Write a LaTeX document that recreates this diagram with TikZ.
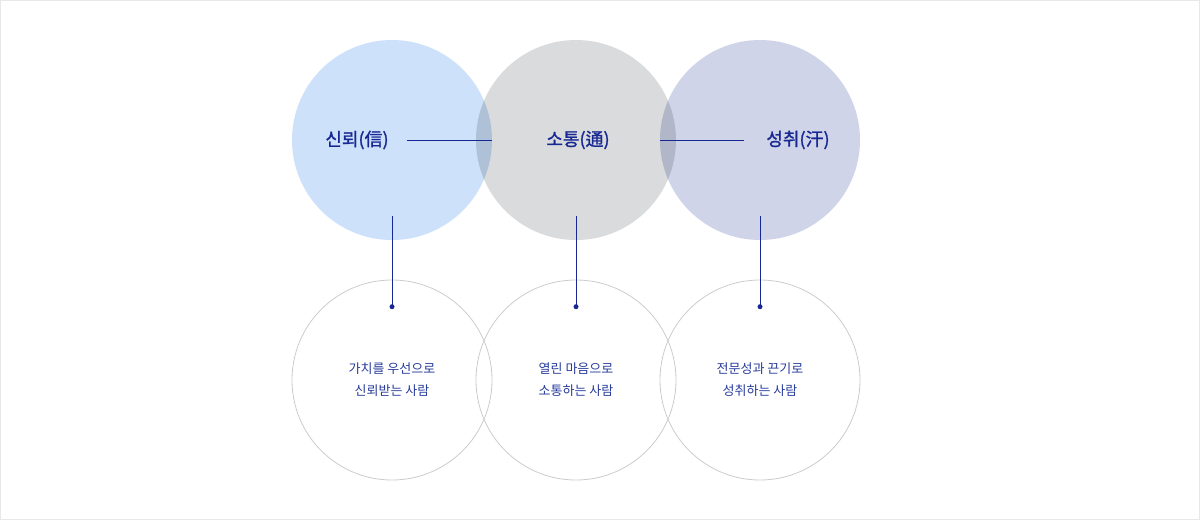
\documentclass[tikz,border=0pt]{standalone}
\usepackage{fontspec}
\setmainfont{Noto Sans CJK KR}
\newfontfamily\titlefont{Noto Sans CJK KR}[FakeBold=1.2]
\usepackage{tikz}
\usetikzlibrary{positioning}
\definecolor{trustblue}{RGB}{205,225,250}
\definecolor{commgray}{RGB}{218,219,220}
\definecolor{achievelav}{RGB}{208,212,232}
\definecolor{ringgray}{RGB}{204,204,208}
\definecolor{framegray}{RGB}{232,232,235}
\definecolor{navy}{RGB}{24,40,146}
\definecolor{capblue}{RGB}{40,60,156}

\begin{document}
\begin{tikzpicture}[x=1pt, y=-1pt,
  big/.style={circle, minimum size=200pt, inner sep=0pt, outer sep=0pt, blend mode=multiply},
  person/.style={circle, draw=ringgray, line width=0.8pt, minimum size=200pt,
    inner sep=0pt, outer sep=0pt},
  title/.style={font=\titlefont\fontsize{18}{20}\selectfont, text=navy, inner sep=0pt},
  caption/.style={font=\fontsize{13}{22}\selectfont, text=capblue, align=center},
  link/.style={draw=navy, line width=1pt},
  dot/.style={circle, fill=navy, minimum size=5pt, inner sep=0pt}
]
\useasboundingbox (0,0) rectangle (1200,520);
\draw[framegray, fill=white] (0.5,0.5) rectangle (1199.5,519.5);
\node[big, fill=trustblue] (trust) at (392,140) {};
\node[big, fill=commgray, right=-16pt of trust] (comm) {};
\node[big, fill=achievelav, right=-16pt of comm] (achieve) {};
\node[title] (ttrust) at ([xshift=-35pt]trust.center) {신뢰(信)};
\node[title] (tcomm) at ([xshift=2pt]comm.center) {소통(通)};
\node[title] (tachieve) at ([xshift=38pt]achieve.center) {성취(汗)};
\node[person, below=40pt of trust] (trustman) {};
\node[person, below=40pt of comm] (commman) {};
\node[person, below=40pt of achieve] (achieveman) {};
\node[caption] (ctrust) at (trustman.center) {가치를 우선으로\\신뢰받는 사람};
\node[caption] (ccomm) at (commman.center) {열린 마음으로\\소통하는 사람};
\node[caption] (cachieve) at (achieveman.center) {전문성과 끈기로\\성취하는 사람};
\node[dot, below=24pt of trustman.north] (dtrust) {};
\node[dot, below=24pt of commman.north] (dcomm) {};
\node[dot, below=24pt of achieveman.north] (dachieve) {};
\draw[link] ([xshift=18pt]ttrust.east) -- (trust.east);
\draw[link] (achieve.west) -- ([xshift=-22pt]tachieve.west);
\draw[link] ([yshift=24pt]trust.south) -- (dtrust.center);
\draw[link] ([yshift=24pt]comm.south) -- (dcomm.center);
\draw[link] ([yshift=24pt]achieve.south) -- (dachieve.center);
\end{tikzpicture}
\end{document}
